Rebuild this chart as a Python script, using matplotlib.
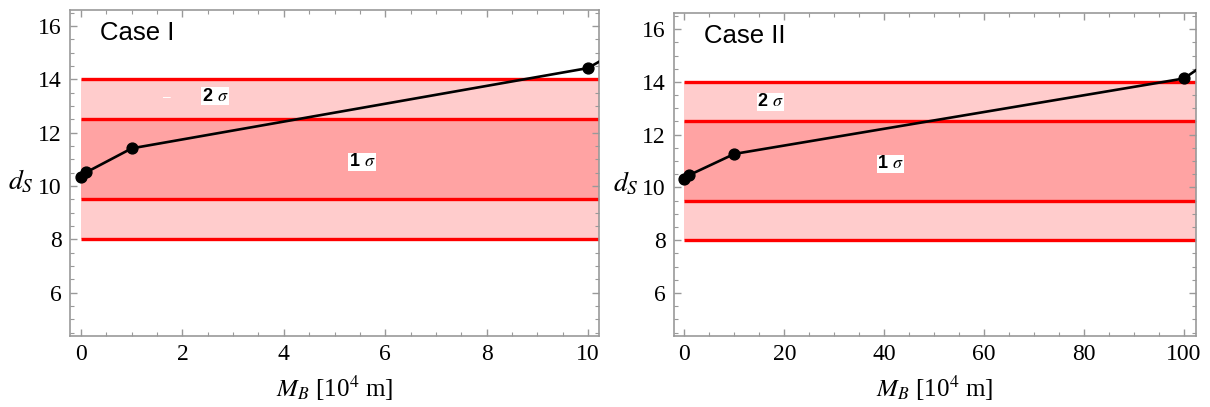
import matplotlib
matplotlib.use("Agg")
import matplotlib.pyplot as plt
from matplotlib.ticker import MultipleLocator

# data
mb_case1 = [0, 0.1, 1, 10, 11]
ds_case1 = [10.35, 10.51, 11.41, 14.42, 15.5]
mb_case2 = [0, 1, 10, 100, 110]
ds_case2 = [10.32, 10.47, 11.27, 14.13, 15.43]

sigma_lines = [8, 9.5, 12.5, 14]
band_2s = [(8, 9.5), (12.5, 14)]
band_1s = (9.5, 12.5)

plt.rcParams['font.family'] = ['Liberation Serif', 'DejaVu Serif']
plt.rcParams['mathtext.fontset'] = 'stix'

red = '#ff0000'
light = '#ffcccc'
dark = '#ffa3a3'
frame = '#999999'

fig = plt.figure(figsize=(12.1, 4.07), dpi=100)
ax1 = fig.add_axes([70 / 1210, 1 - 335.7 / 407, 529 / 1210, 325.7 / 407])
ax2 = fig.add_axes([674 / 1210, 1 - 335.7 / 407, 522 / 1210, 322.4 / 407])


def draw(ax, mb, ds, xmax, xlim, xmajor, xminor, title, lab2, lab1, dash=None):
    for lo, hi in band_2s:
        ax.fill_between([0, xmax], lo, hi, color=light, lw=0, zorder=1)
    ax.fill_between([0, xmax], band_1s[0], band_1s[1], color=dark, lw=0, zorder=1)
    for y in sigma_lines:
        ax.plot([0, xmax], [y, y], color=red, lw=2.4, zorder=2, solid_capstyle='butt')
    ax.plot(mb, ds, color='black', lw=1.9, marker='o', ms=7.8, zorder=4)
    ax.set_xlim(*xlim)
    ax.set_ylim(4.38, 16.6)
    ax.xaxis.set_major_locator(MultipleLocator(xmajor))
    ax.xaxis.set_minor_locator(MultipleLocator(xminor))
    ax.yaxis.set_major_locator(MultipleLocator(2))
    ax.yaxis.set_minor_locator(MultipleLocator(0.5))
    ax.tick_params(which='both', direction='in', top=True, right=True,
                   color=frame, labelsize=17, labelcolor='black')
    ax.tick_params(which='major', length=5, width=1, pad=6)
    ax.tick_params(which='minor', length=3, width=0.8)
    ax.tick_params(axis='y', labelright=False)
    for s in ax.spines.values():
        s.set_color(frame)
        s.set_linewidth(1.2)
    ax.set_xlabel(r'$M_B$ [10$^4$ m]', fontsize=18, labelpad=6)
    ax.set_ylabel(r'$d_S$', fontsize=20, rotation=0)
    ax.yaxis.set_label_coords(-0.092, 0.43)
    ax.text(0.057, 0.93, title, transform=ax.transAxes, fontsize=18.5,
            family=['Liberation Sans', 'DejaVu Sans'], va='center', ha='left')
    box = dict(facecolor='white', edgecolor='none', pad=0.2)
    ax.text(lab2[0], lab2[1], r'2 $\mathit{\sigma}$', fontsize=13, ha='center', va='center',
            family=['Liberation Sans', 'DejaVu Sans'], weight='bold', bbox=box, zorder=3)
    ax.text(lab1[0], lab1[1], r'1 $\mathit{\sigma}$', fontsize=13, ha='center', va='center',
            family=['Liberation Sans', 'DejaVu Sans'], weight='bold', bbox=box, zorder=3)
    if dash is not None:
        ax.text(dash[0], dash[1], '–', color='white', fontsize=10, ha='center',
                va='center', family=['Liberation Sans', 'DejaVu Sans'], zorder=3)


draw(ax1, mb_case1, ds_case1, 10.22, (-0.22, 10.22), 2, 0.5, 'Case I',
     (2.64, 13.36), (5.54, 10.9), dash=(1.7, 13.33))
draw(ax2, mb_case2, ds_case2, 102.4, (-2.07, 102.4), 20, 5, 'Case II',
     (17.3, 13.24), (41.2, 10.89))

fig.savefig('out.png', dpi=100)
